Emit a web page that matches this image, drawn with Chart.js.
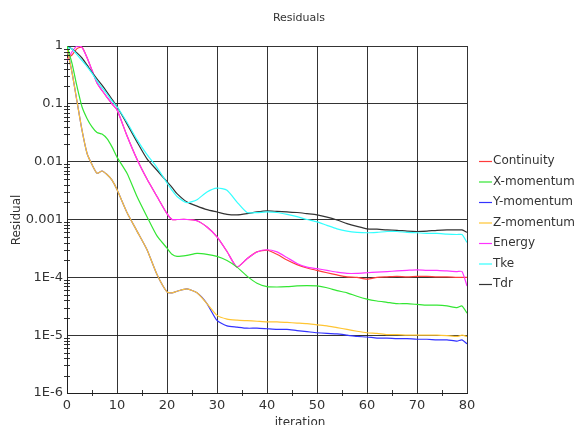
<!DOCTYPE html>
<html>
  <head>
    <script src="https://cdn.jsdelivr.net/npm/chart.js@4.4.0/dist/chart.umd.min.js"></script>
    <style>
      body { margin: 0; background: #fff; }
      #wrap { width: 574px; height: 425px; position: relative; }
    </style>
  </head>

  <body>
    <div id="wrap">
      <canvas id="canvas"></canvas>
    </div>
    <script>
      // residual history (iteration -> residual)
      const iterations = [0, 1, 2, 3, 4, 5, 6, 7, 8, 9, 10, 12, 14, 16, 18, 20, 21, 22, 24, 26, 28, 30, 32, 34, 36, 38, 40,
        42, 44, 46, 48, 50, 52, 54, 56, 58, 60, 62, 64, 66, 68, 70, 72, 74, 76, 78, 79, 80];

      const continuity = [0.6, 0.7, 0.9, 0.95, 0.63, 0.38, 0.23, 0.17, 0.13, 0.1, 0.079, 0.028, 0.011, 0.005, 0.0025,
        1.26e-3, 1.0e-3, 1.0e-3, 1.0e-3, 9.5e-4, 7.4e-4, 5.0e-4, 2.8e-4, 1.5e-4, 2.1e-4, 2.75e-4, 2.95e-4,
        2.5e-4, 2.0e-4, 1.66e-4, 1.45e-4, 1.32e-4, 1.2e-4, 1.1e-4, 1.02e-4, 1.0e-4, 9.3e-5, 1.0e-4, 1.02e-4,
        1.04e-4, 1.02e-4, 1.04e-4, 1.04e-4, 1.02e-4, 1.02e-4, 1.0e-4, 1.0e-4, 1.0e-4];
      const xMomentum = [1.0, 0.5, 0.2, 0.089, 0.056, 0.04, 0.032, 0.03, 0.025, 0.018, 0.012, 6.3e-3, 2.5e-3, 1.12e-3,
        5.2e-4, 3.2e-4, 2.5e-4, 2.3e-4, 2.4e-4, 2.6e-4, 2.5e-4, 2.3e-4, 1.95e-4, 1.5e-4, 1.05e-4, 7.9e-5, 6.9e-5,
        6.8e-5, 6.9e-5, 7.1e-5, 7.2e-5, 7.1e-5, 6.6e-5, 5.9e-5, 5.4e-5, 4.7e-5, 4.2e-5, 3.9e-5, 3.7e-5,
        3.5e-5, 3.5e-5, 3.4e-5, 3.3e-5, 3.3e-5, 3.2e-5, 3.0e-5, 3.2e-5, 2.4e-5];
      const yMomentum = [0.89, 0.35, 0.11, 0.035, 0.014, 8.9e-3, 6.3e-3, 6.9e-3, 6.0e-3, 4.8e-3, 3.3e-3, 1.32e-3, 6.3e-4,
        3.0e-4, 1.12e-4, 5.6e-5, 5.4e-5, 5.75e-5, 6.3e-5, 5.4e-5, 3.5e-5, 1.8e-5, 1.45e-5, 1.38e-5, 1.32e-5,
        1.32e-5, 1.29e-5, 1.26e-5, 1.26e-5, 1.2e-5, 1.15e-5, 1.1e-5, 1.07e-5, 1.05e-5, 1.0e-5, 9.5e-6, 9.3e-6,
        8.9e-6, 8.9e-6, 8.7e-6, 8.7e-6, 8.5e-6, 8.5e-6, 8.3e-6, 8.3e-6, 7.9e-6, 8.3e-6, 7.1e-6];
      const zMomentum = [0.89, 0.35, 0.11, 0.035, 0.014, 8.9e-3, 6.3e-3, 6.9e-3, 6.0e-3, 4.8e-3, 3.3e-3, 1.32e-3, 6.3e-4,
        3.0e-4, 1.12e-4, 5.6e-5, 5.4e-5, 5.75e-5, 6.3e-5, 5.4e-5, 3.5e-5, 2.2e-5, 1.9e-5, 1.82e-5, 1.78e-5,
        1.74e-5, 1.7e-5, 1.7e-5, 1.66e-5, 1.62e-5, 1.58e-5, 1.51e-5, 1.45e-5, 1.35e-5, 1.26e-5, 1.17e-5, 1.1e-5,
        1.07e-5, 1.02e-5, 1.02e-5, 1.0e-5, 1.0e-5, 1.0e-5, 1.0e-5, 9.8e-6, 9.5e-6, 1.0e-5, 9.5e-6];
      const energy = [0.56, 0.79, 1.0, 0.95, 0.63, 0.38, 0.23, 0.17, 0.13, 0.1, 0.079, 0.028, 0.011, 0.005, 0.0025,
        1.26e-3, 1.0e-3, 1.0e-3, 1.0e-3, 9.5e-4, 7.4e-4, 5.0e-4, 2.8e-4, 1.5e-4, 2.1e-4, 2.75e-4, 3.0e-4,
        2.75e-4, 2.2e-4, 1.74e-4, 1.5e-4, 1.41e-4, 1.32e-4, 1.23e-4, 1.17e-4, 1.17e-4, 1.2e-4, 1.23e-4, 1.26e-4,
        1.29e-4, 1.32e-4, 1.35e-4, 1.32e-4, 1.32e-4, 1.29e-4, 1.26e-4, 1.26e-4, 7.1e-5];
      const tke = [0.95, 0.89, 0.71, 0.56, 0.44, 0.34, 0.25, 0.19, 0.148, 0.112, 0.089, 0.048, 0.024, 0.0132, 7.9e-3,
        4.3e-3, 3.2e-3, 2.5e-3, 1.95e-3, 2.2e-3, 3.0e-3, 3.5e-3, 3.2e-3, 2.0e-3, 1.32e-3, 1.32e-3, 1.35e-3,
        1.32e-3, 1.23e-3, 1.12e-3, 1.0e-3, 9.1e-4, 7.9e-4, 6.9e-4, 6.3e-4, 6.0e-4, 5.9e-4, 6.0e-4, 6.2e-4,
        6.2e-4, 6.0e-4, 5.9e-4, 5.75e-4, 5.75e-4, 5.6e-4, 5.5e-4, 5.5e-4, 4.0e-4];
      const tdr = [1.0, 0.89, 0.76, 0.62, 0.47, 0.35, 0.27, 0.21, 0.16, 0.12, 0.089, 0.045, 0.022, 0.0112, 7.1e-3,
        4.5e-3, 3.6e-3, 2.8e-3, 2.0e-3, 1.7e-3, 1.48e-3, 1.35e-3, 1.23e-3, 1.2e-3, 1.26e-3, 1.35e-3, 1.41e-3,
        1.38e-3, 1.35e-3, 1.32e-3, 1.26e-3, 1.2e-3, 1.1e-3, 9.8e-4, 8.5e-4, 7.6e-4, 6.9e-4, 6.8e-4, 6.6e-4,
        6.5e-4, 6.3e-4, 6.2e-4, 6.3e-4, 6.5e-4, 6.6e-4, 6.6e-4, 6.6e-4, 6.0e-4];

      const seriesNames = ['Continuity', 'X-momentum', 'Y-momentum', 'Z-momentum', 'Energy', 'Tke', 'Tdr'];
      const seriesColors = ['#ff3b3b', '#33e633', '#3333ff', '#ffc533', '#ff33ff', '#33ffff', '#333333'];
      const seriesData = [continuity, xMomentum, yMomentum, zMomentum, energy, tke, tdr];
      const drawOrder = [2, 0, 2, 1, 1, 0, 0];

      const yTicks = [1e-6, 1e-5, 1e-4, 1e-3, 1e-2, 1e-1, 1];
      const yTickLabels = ['1E-6', '1E-5', '1E-4', '0.001', '0.01', '0.1', '1'];

      const gridColor = 'rgba(30,30,30,0.9)';
      const textColor = '#333';
      const font = 'DejaVu Sans';

      const datasets = seriesNames.map((name, i) => ({
        label: name,
        data: iterations.map((it, j) => ({ x: it, y: seriesData[i][j] })),
        borderColor: seriesColors[i],
        backgroundColor: seriesColors[i],
        borderWidth: 1.2,
        pointRadius: 0,
        tension: 0.2,
        order: drawOrder[i],
      }));

      // title, axis titles, legend and minor ticks drawn by hand
      const decorations = {
        id: 'decorations',
        afterDraw(chart) {
          const ctx = chart.ctx;
          const xs = chart.scales.x;
          const ys = chart.scales.y;
          ctx.save();
          ctx.strokeStyle = gridColor;
          ctx.lineWidth = 1;
          ctx.beginPath();
          for (let k = -6; k < 0; k++) {
            for (let m = 2; m <= 9; m++) {
              const y = Math.round(ys.getPixelForValue(m * Math.pow(10, k))) + 0.5;
              ctx.moveTo(xs.left - 3, y);
              ctx.lineTo(xs.left + 3, y);
            }
          }
          for (let v = 5; v < 80; v += 10) {
            const x = Math.round(xs.getPixelForValue(v)) + 0.5;
            ctx.moveTo(x, ys.bottom - 3);
            ctx.lineTo(x, ys.bottom + 3);
          }
          ctx.stroke();

          ctx.fillStyle = textColor;
          ctx.font = '11px ' + font;
          ctx.textAlign = 'center';
          ctx.textBaseline = 'middle';
          ctx.fillText('Residuals', 299, 18);
          ctx.font = '12px ' + font;
          ctx.fillText('iteration', 300, 423);
          ctx.save();
          ctx.translate(17, 220);
          ctx.rotate(-Math.PI / 2);
          ctx.fillText('Residual', 0, 0);
          ctx.restore();

          ctx.font = '12px ' + font;
          ctx.textAlign = 'left';
          seriesNames.forEach((name, i) => {
            const y = 161 + i * 20.5;
            ctx.strokeStyle = seriesColors[i];
            ctx.lineWidth = 1.2;
            ctx.beginPath();
            ctx.moveTo(479, y + 0.5);
            ctx.lineTo(492, y + 0.5);
            ctx.stroke();
            ctx.fillStyle = textColor;
            ctx.fillText(name, 493, y);
          });
          ctx.restore();
        },
      };

      new Chart(document.getElementById('canvas'), {
        type: 'line',
        data: { datasets },
        options: {
          responsive: true,
          maintainAspectRatio: false,
          animation: false,
          layout: { padding: { top: 46, right: 107, left: 0, bottom: 0 } },
          plugins: {
            legend: { display: false },
            title: { display: false },
            tooltip: { enabled: false },
          },
          scales: {
            x: {
              type: 'linear',
              min: 0,
              max: 80,
              ticks: { stepSize: 10, color: textColor, font: { family: font, size: 13 }, padding: 5, maxRotation: 0 },
              grid: { color: gridColor, lineWidth: 1, tickLength: 0 },
              border: { color: gridColor },
              afterFit(scale) { scale.height = 32; },
            },
            y: {
              type: 'logarithmic',
              min: 1e-6,
              max: 1,
              afterBuildTicks(scale) { scale.ticks = yTicks.map((v) => ({ value: v })); },
              ticks: {
                color: textColor,
                font: { family: font, size: 13 },
                padding: 4,
                callback: (value, index) => yTickLabels[index],
              },
              grid: { color: gridColor, lineWidth: 1, tickLength: 0 },
              border: { color: gridColor },
              afterFit(scale) { scale.width = 67; },
            },
          },
        },
        plugins: [decorations],
      });
    </script>
  </body>
</html>
